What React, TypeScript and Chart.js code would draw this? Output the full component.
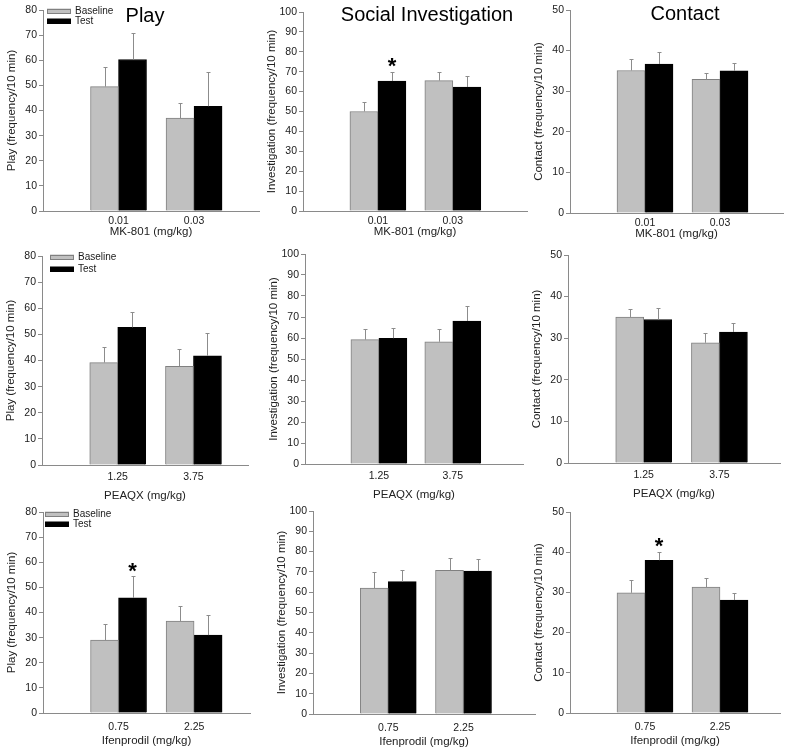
import React, { useEffect, useRef } from 'react';
import { Chart, registerables } from 'chart.js';

Chart.register(...registerables);
Chart.defaults.font.family = "Arial, 'Liberation Sans', sans-serif";

// ---------- data ----------
const SERIES = ['Baseline', 'Test'];
const MK801_DOSES = ['0.01', '0.03'];
const PEAQX_DOSES = ['1.25', '3.75'];
const IFEN_DOSES = ['0.75', '2.25'];

const COLUMN_TITLES = ['Play', 'Social Investigation', 'Contact'];
const Y_LABELS = ['Play (frequency/10 min)', 'Investigation (frequency/10 min)', 'Contact (frequency/10 min)'];
const X_LABELS = ['MK-801 (mg/kg)', 'PEAQX (mg/kg)', 'Ifenprodil (mg/kg)'];
const Y_MAX = [80, 100, 50];

// MK-801
const PLAY_MK_BASE = [49.5, 37.0];
const PLAY_MK_BASE_ERR = [8.0, 5.8];
const PLAY_MK_TEST = [60.3, 41.7];
const PLAY_MK_TEST_ERR = [10.5, 13.5];

const INV_MK_BASE = [50.0, 65.5];
const INV_MK_BASE_ERR = [5.0, 4.5];
const INV_MK_TEST = [65.3, 62.3];
const INV_MK_TEST_ERR = [4.7, 5.3];

const CON_MK_BASE = [35.1, 32.9];
const CON_MK_BASE_ERR = [2.9, 1.6];
const CON_MK_TEST = [36.7, 35.0];
const CON_MK_TEST_ERR = [3.0, 2.0];

// PEAQX
const PLAY_PQ_BASE = [39.2, 37.8];
const PLAY_PQ_BASE_ERR = [5.8, 6.7];
const PLAY_PQ_TEST = [52.7, 41.8];
const PLAY_PQ_TEST_ERR = [5.9, 8.7];

const INV_PQ_BASE = [59.2, 58.2];
const INV_PQ_BASE_ERR = [5.1, 6.1];
const INV_PQ_TEST = [59.9, 68.1];
const INV_PQ_TEST_ERR = [5.0, 7.1];

const CON_PQ_BASE = [35.1, 28.9];
const CON_PQ_BASE_ERR = [1.9, 2.4];
const CON_PQ_TEST = [34.5, 31.5];
const CON_PQ_TEST_ERR = [2.7, 2.1];

// Ifenprodil
const PLAY_IF_BASE = [29.0, 36.6];
const PLAY_IF_BASE_ERR = [6.3, 6.0];
const PLAY_IF_TEST = [45.8, 31.0];
const PLAY_IF_TEST_ERR = [8.7, 8.2];

const INV_IF_BASE = [62.0, 70.8];
const INV_IF_BASE_ERR = [8.0, 6.0];
const INV_IF_TEST = [65.2, 70.4];
const INV_IF_TEST_ERR = [5.8, 6.1];

const CON_IF_BASE = [29.9, 31.3];
const CON_IF_BASE_ERR = [3.1, 2.2];
const CON_IF_TEST = [38.0, 28.1];
const CON_IF_TEST_ERR = [2.1, 1.8];

// significance markers: [datasetIndex, categoryIndex]
const STARS_INV_MK = [[1, 0]];
const STARS_PLAY_IF = [[1, 0]];
const STARS_CON_IF = [[1, 0]];

// ---------- styles ----------
const BASE_FILL = '#c0c0c0';
const BASE_EDGE = '#808080';
const TEST_FILL = '#000000';
const AXIS = '#8a8a8a';
const ERR = '#8c8c8c';
const TEXT = '#1a1a1a';

type Layout = {
  axisX: number; topY: number; zeroY: number; rightX: number; xMax: number;
  tickPad: number; titleH: number; lgX: number; lgY: number; lgGap: number;
};

type Panel = {
  col: number; row: number; doses: string[];
  base: number[]; baseErr: number[]; test: number[]; testErr: number[];
  stars: number[][]; legend: boolean; L: Layout;
};

const PANELS: Panel[] = [
  { col: 0, row: 0, doses: MK801_DOSES, base: PLAY_MK_BASE, baseErr: PLAY_MK_BASE_ERR, test: PLAY_MK_TEST, testErr: PLAY_MK_TEST_ERR, stars: [], legend: true,
    L: { axisX: 43, topY: 10, zeroY: 211, rightX: 259, xMax: 2.86, tickPad: 4, titleH: 28, lgX: 4, lgY: 1, lgGap: 10 } },
  { col: 1, row: 0, doses: MK801_DOSES, base: INV_MK_BASE, baseErr: INV_MK_BASE_ERR, test: INV_MK_TEST, testErr: INV_MK_TEST_ERR, stars: STARS_INV_MK, legend: false,
    L: { axisX: 303, topY: 12, zeroY: 211, rightX: 527, xMax: 2.99, tickPad: 4, titleH: 28, lgX: 0, lgY: 0, lgGap: 0 } },
  { col: 2, row: 0, doses: MK801_DOSES, base: CON_MK_BASE, baseErr: CON_MK_BASE_ERR, test: CON_MK_TEST, testErr: CON_MK_TEST_ERR, stars: [], legend: false,
    L: { axisX: 570, topY: 10, zeroY: 213, rightX: 783, xMax: 2.84, tickPad: 4, titleH: 28, lgX: 0, lgY: 0, lgGap: 0 } },
  { col: 0, row: 1, doses: PEAQX_DOSES, base: PLAY_PQ_BASE, baseErr: PLAY_PQ_BASE_ERR, test: PLAY_PQ_TEST, testErr: PLAY_PQ_TEST_ERR, stars: [], legend: true,
    L: { axisX: 42, topY: 256, zeroY: 465, rightX: 248, xMax: 2.72, tickPad: 6, titleH: 38, lgX: 8, lgY: 1, lgGap: 12 } },
  { col: 1, row: 1, doses: PEAQX_DOSES, base: INV_PQ_BASE, baseErr: INV_PQ_BASE_ERR, test: INV_PQ_TEST, testErr: INV_PQ_TEST_ERR, stars: [], legend: false,
    L: { axisX: 305, topY: 254, zeroY: 464, rightX: 523, xMax: 2.95, tickPad: 6, titleH: 38, lgX: 0, lgY: 0, lgGap: 0 } },
  { col: 2, row: 1, doses: PEAQX_DOSES, base: CON_PQ_BASE, baseErr: CON_PQ_BASE_ERR, test: CON_PQ_TEST, testErr: CON_PQ_TEST_ERR, stars: [], legend: false,
    L: { axisX: 568, topY: 255, zeroY: 463, rightX: 780, xMax: 2.8, tickPad: 6, titleH: 38, lgX: 0, lgY: 0, lgGap: 0 } },
  { col: 0, row: 2, doses: IFEN_DOSES, base: PLAY_IF_BASE, baseErr: PLAY_IF_BASE_ERR, test: PLAY_IF_TEST, testErr: PLAY_IF_TEST_ERR, stars: STARS_PLAY_IF, legend: true,
    L: { axisX: 43, topY: 512, zeroY: 713, rightX: 250, xMax: 2.74, tickPad: 8, titleH: 35, lgX: 2, lgY: 2, lgGap: 10 } },
  { col: 1, row: 2, doses: IFEN_DOSES, base: INV_IF_BASE, baseErr: INV_IF_BASE_ERR, test: INV_IF_TEST, testErr: INV_IF_TEST_ERR, stars: [], legend: false,
    L: { axisX: 313, topY: 511, zeroY: 714, rightX: 535, xMax: 2.95, tickPad: 8, titleH: 35, lgX: 0, lgY: 0, lgGap: 0 } },
  { col: 2, row: 2, doses: IFEN_DOSES, base: CON_IF_BASE, baseErr: CON_IF_BASE_ERR, test: CON_IF_TEST, testErr: CON_IF_TEST_ERR, stars: STARS_CON_IF, legend: false,
    L: { axisX: 570, topY: 512, zeroY: 713, rightX: 780, xMax: 2.8, tickPad: 8, titleH: 35, lgX: 0, lgY: 0, lgGap: 0 } },
];

const TITLE_POS = [
  { x: 145, y: 15 },
  { x: 427, y: 14 },
  { x: 685, y: 13 },
];

const PAD_TOP = 10;
const PAD_RIGHT = 4;
const Y_W = 42;

function makeAnnotPlugin(p: Panel) {
  return {
    id: 'annot' + p.row + p.col,
    afterDatasetsDraw(chart: any) {
      const ctx = chart.ctx;
      const yScale = chart.scales.y;
      const errs = [p.baseErr, p.testErr];
      const vals = [p.base, p.test];
      ctx.save();
      // error bars (upper only)
      ctx.strokeStyle = ERR;
      ctx.lineWidth = 1;
      for (let d = 0; d < 2; d++) {
        const meta = chart.getDatasetMeta(d);
        meta.data.forEach((el: any, i: number) => {
          const x = Math.round(el.x) + 0.5;
          const yTop = Math.round(yScale.getPixelForValue(vals[d][i] + errs[d][i])) + 0.5;
          const yBar = el.y;
          ctx.beginPath();
          ctx.moveTo(x, yBar);
          ctx.lineTo(x, yTop);
          ctx.moveTo(x - 2, yTop);
          ctx.lineTo(x + 2, yTop);
          ctx.stroke();
        });
      }
      // stars
      ctx.fillStyle = '#000';
      ctx.font = "bold 22px Arial, 'Liberation Sans', sans-serif";
      ctx.textAlign = 'center';
      ctx.textBaseline = 'alphabetic';
      p.stars.forEach(([d, i]) => {
        const el = chart.getDatasetMeta(d).data[i];
        const yTop = yScale.getPixelForValue(vals[d][i] + errs[d][i]);
        const yc = yTop - 11;
        ctx.fillText('*', el.x, yc + 12.6);
      });
      // legend
      if (p.legend) {
        const ca = chart.chartArea;
        const x0 = ca.left + p.L.lgX;
        const fills = [BASE_FILL, TEST_FILL];
        const edges = [BASE_EDGE, TEST_FILL];
        ctx.font = "10px Arial, 'Liberation Sans', sans-serif";
        ctx.textAlign = 'left';
        ctx.textBaseline = 'middle';
        for (let d = 0; d < 2; d++) {
          const yc = ca.top + p.L.lgY + d * p.L.lgGap;
          ctx.fillStyle = fills[d];
          ctx.fillRect(x0, yc - 2.5, 24, 5);
          ctx.strokeStyle = edges[d];
          ctx.strokeRect(x0 + 0.5, Math.round(yc - 2.5) + 0.5, 23, 4);
          ctx.fillStyle = TEXT;
          ctx.fillText(chart.data.datasets[d].label, x0 + 28, yc + 0.5);
        }
      }
      ctx.restore();
    },
  };
}

function PanelChart({ p }: { p: Panel }) {
  const ref = useRef<HTMLCanvasElement>(null);
  const L = p.L;
  const width = Y_W + (L.rightX - L.axisX) + PAD_RIGHT;
  const height = PAD_TOP + (L.zeroY - L.topY) + L.titleH;
  const left = L.axisX - Y_W;
  const top = L.topY - PAD_TOP;

  useEffect(() => {
    if (!ref.current) return;
    const chart = new Chart(ref.current, {
      type: 'bar',
      data: {
        datasets: [
          {
            label: SERIES[0],
            data: p.base.map((v, i) => ({ x: i + 1, y: v })),
            backgroundColor: BASE_FILL,
            borderColor: BASE_EDGE,
            borderWidth: 1,
            barThickness: 28,
          },
          {
            label: SERIES[1],
            data: p.test.map((v, i) => ({ x: i + 1, y: v })),
            backgroundColor: TEST_FILL,
            borderColor: TEST_FILL,
            borderWidth: 1,
            barThickness: 28,
          },
        ],
      } as any,
      options: {
        responsive: false,
        animation: false,
        layout: { padding: { top: PAD_TOP, right: PAD_RIGHT, left: 0, bottom: 0 } },
        plugins: {
          legend: { display: false },
          tooltip: { enabled: false },
          title: { display: false },
        },
        scales: {
          x: {
            type: 'linear',
            min: 0,
            max: L.xMax,
            offset: false,
            afterBuildTicks: (s: any) => {
              s.ticks = p.doses.map((_, i) => ({ value: i + 1 }));
            },
            afterFit: (s: any) => {
              s.height = L.titleH;
            },
            ticks: {
              callback: (v: any) => p.doses[Number(v) - 1] ?? '',
              padding: L.tickPad,
              font: { size: 10.5 },
              color: TEXT,
              maxRotation: 0,
              autoSkip: false,
            },
            grid: { display: false, drawTicks: false },
            border: { display: true, color: AXIS, width: 1 },
            title: {
              display: true,
              text: X_LABELS[p.row],
              font: { size: 11.5 },
              color: '#222',
              padding: { top: 0, bottom: 0 },
            },
          },
          y: {
            min: 0,
            max: Y_MAX[p.col],
            afterFit: (s: any) => {
              s.width = Y_W;
            },
            ticks: { stepSize: 10, padding: 2, font: { size: 10.5 }, color: TEXT },
            grid: { display: true, drawOnChartArea: false, drawTicks: true, tickLength: 4, color: AXIS },
            border: { display: true, color: AXIS, width: 1 },
            title: {
              display: true,
              text: Y_LABELS[p.col],
              font: { size: 11.5 },
              color: '#222',
              padding: { top: 4, bottom: 0 },
            },
          },
        },
      } as any,
      plugins: [makeAnnotPlugin(p)],
    });
    return () => chart.destroy();
  }, []);

  return (
    <canvas
      ref={ref}
      width={width}
      height={height}
      style={{ position: 'absolute', left, top, width, height }}
    />
  );
}

export default function App() {
  return (
    <div
      style={{
        position: 'absolute',
        left: 0,
        top: 0,
        width: 800,
        height: 752,
        background: '#ffffff',
        overflow: 'hidden',
      }}
    >
      {PANELS.map((p) => (
        <PanelChart key={p.row + '-' + p.col} p={p} />
      ))}
      {COLUMN_TITLES.map((t, i) => (
        <div
          key={t}
          style={{
            position: 'absolute',
            left: TITLE_POS[i].x,
            top: TITLE_POS[i].y,
            transform: 'translate(-50%, -50%)',
            fontFamily: "Arial, 'Liberation Sans', sans-serif",
            fontSize: 20,
            lineHeight: 1,
            whiteSpace: 'nowrap',
            color: '#000',
            pointerEvents: 'none',
          }}
        >
          {t}
        </div>
      ))}
    </div>
  );
}
